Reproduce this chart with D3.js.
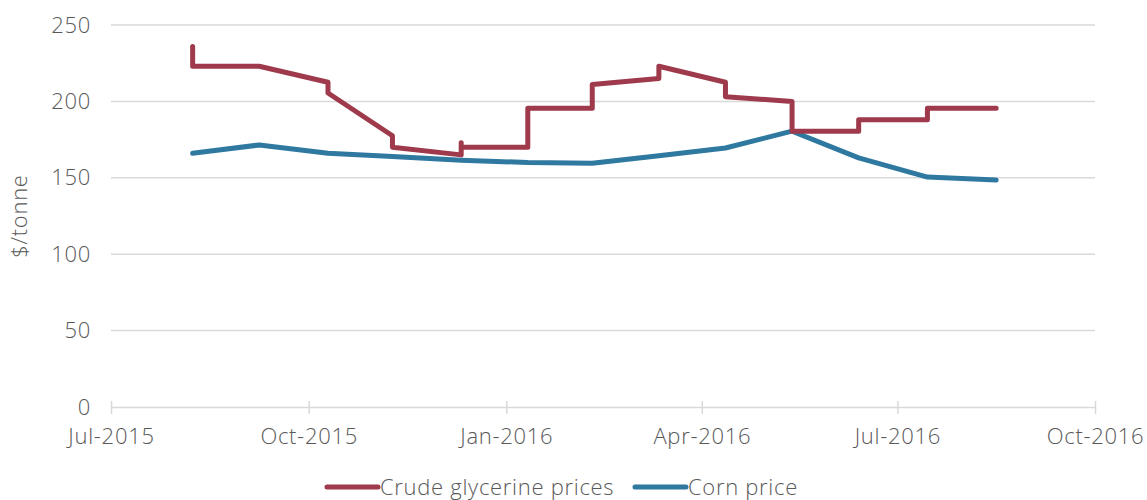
<!DOCTYPE html>
<html>
<head>
<meta charset="utf-8">
<script src="https://cdn.jsdelivr.net/npm/d3@7"></script>
<style>
  body { margin: 0; background: #fff; }
  text { font-family: "Open Sans", Lato, sans-serif; font-weight: 300; fill: #595959; letter-spacing: 0.7px; }
</style>
</head>
<body>
<script>
// months where prices were reported
var dates = ["2015-08-08", "2015-09-08", "2015-10-10", "2015-11-09", "2015-12-11", "2016-01-11",
             "2016-02-10", "2016-03-12", "2016-04-12", "2016-05-13", "2016-06-13", "2016-07-15", "2016-08-16"];

// corn price, one value per date
var cornValues = [166, 171.5, 166, 164, 161.5, 160, 159.5, 164.5, 169.5, 180.5, 163, 150.5, 148.5];

// crude glycerine: date index + value (steps happen within a date)
var glyDateIndex = [0, 0, 1, 2, 2, 3, 3, 4, 4, 4, 5, 5, 6, 6, 7, 7, 8, 8, 9, 9, 10, 10, 11, 11, 12];
var glyValues = [236, 223, 223, 212.5, 205.5, 177.5, 170, 165, 173, 170, 170, 195.5, 195.5, 211,
                 215, 223, 212.5, 203, 200, 180.5, 180.5, 188, 188, 195.5, 195.5];

var yTicks = [0, 50, 100, 150, 200, 250];
var xTickLabels = ["Jul-2015", "Oct-2015", "Jan-2016", "Apr-2016", "Jul-2016", "Oct-2016"];
var xTickDates = ["2015-07-01", "2015-10-01", "2016-01-01", "2016-04-01", "2016-07-01", "2016-10-01"];

var seriesNames = ["Crude glycerine prices", "Corn price"];
var seriesColors = ["#9e3a4c", "#2f79a1"];

var width = 1147, height = 500;
var margin = {left: 111, right: 52, top: 25, bottom: 93};

var parse = d3.timeParse("%Y-%m-%d");

var svg = d3.select("body").append("svg")
  .attr("width", width)
  .attr("height", height);

var x = d3.scaleTime()
  .domain([parse(xTickDates[0]), parse(xTickDates[xTickDates.length - 1])])
  .range([margin.left, width - margin.right]);

var y = d3.scaleLinear()
  .domain([0, 250])
  .range([height - margin.bottom, margin.top]);

// gridlines
svg.append("g")
  .selectAll("line")
  .data(yTicks.slice(1))
  .enter().append("line")
  .attr("x1", margin.left)
  .attr("x2", width - margin.right)
  .attr("y1", function(d) { return y(d); })
  .attr("y2", function(d) { return y(d); })
  .attr("stroke", "#d9d9d9")
  .attr("stroke-width", 1.5);

// y axis labels
var yAxis = d3.axisLeft(y)
  .tickValues(yTicks)
  .tickSize(0)
  .tickPadding(20);

svg.append("g")
  .attr("transform", "translate(" + margin.left + ",0)")
  .call(yAxis)
  .call(function(g) { g.select(".domain").remove(); })
  .selectAll("text")
  .style("font-size", "22px")
  .attr("fill", "#595959");

// x axis
var xAxis = d3.axisBottom(x)
  .tickValues(xTickDates.map(parse))
  .tickFormat(function(d, i) { return xTickLabels[i]; })
  .tickSizeInner(7)
  .tickSizeOuter(0)
  .tickPadding(14);

var gx = svg.append("g")
  .attr("transform", "translate(0," + y(0) + ")")
  .call(xAxis);

gx.select(".domain").attr("stroke", "#d9d9d9").attr("stroke-width", 1.5);
gx.selectAll(".tick line")
  .attr("y1", -6)
  .attr("stroke", "#d9d9d9")
  .attr("stroke-width", 1.5);
gx.selectAll("text")
  .style("font-size", "22px")
  .attr("fill", "#595959");

// y axis title
svg.append("text")
  .attr("transform", "translate(27," + (y(125)) + ") rotate(-90)")
  .attr("text-anchor", "middle")
  .style("font-size", "22px")
  .text("$/tonne");

var line = d3.line()
  .x(function(d) { return x(d.date); })
  .y(function(d) { return y(d.value); });

var glyData = glyValues.map(function(v, i) {
  return {date: parse(dates[glyDateIndex[i]]), value: v};
});
var cornData = cornValues.map(function(v, i) {
  return {date: parse(dates[i]), value: v};
});

svg.append("path")
  .datum(cornData)
  .attr("d", line)
  .attr("fill", "none")
  .attr("stroke", seriesColors[1])
  .attr("stroke-width", 5)
  .attr("stroke-linejoin", "round")
  .attr("stroke-linecap", "round");

svg.append("path")
  .datum(glyData)
  .attr("d", line)
  .attr("fill", "none")
  .attr("stroke", seriesColors[0])
  .attr("stroke-width", 5)
  .attr("stroke-linejoin", "round")
  .attr("stroke-linecap", "round");

// legend
var legendX = [327, 635];
var legend = svg.append("g")
  .selectAll("g")
  .data(seriesNames)
  .enter().append("g")
  .attr("transform", function(d, i) { return "translate(" + legendX[i] + ",487)"; });

legend.append("line")
  .attr("x1", 0)
  .attr("x2", 51)
  .attr("stroke", function(d, i) { return seriesColors[i]; })
  .attr("stroke-width", 5)
  .attr("stroke-linecap", "round");

legend.append("text")
  .attr("x", 53)
  .attr("dy", "0.35em")
  .style("font-size", "22px")
  .text(function(d) { return d; });
</script>
</body>
</html>
